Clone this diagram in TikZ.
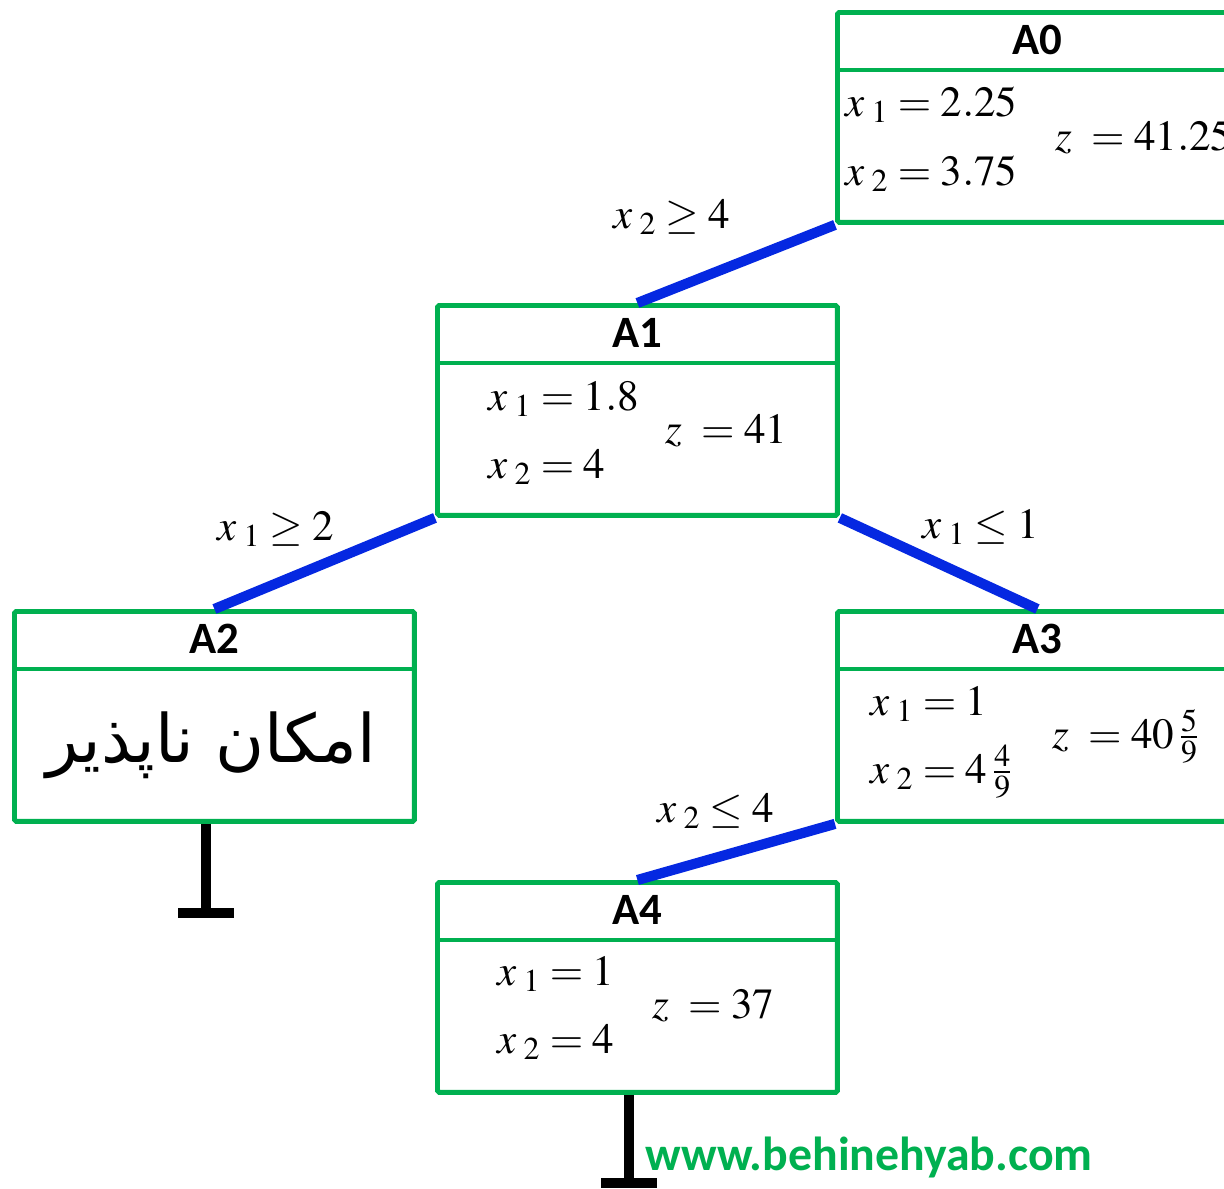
\documentclass[tikz,border=0pt]{standalone}
\usepackage{amsmath}
\usepackage{mathptmx}
\usepackage{fontspec}
\setmainfont{Liberation Serif}
\newfontfamily\headfont{Carlito}
\newfontfamily\persianfont[Script=Arabic]{DejaVu Sans}
\TeXXeTstate=1
\definecolor{boxgreen}{RGB}{0,176,80}
\definecolor{branchblue}{RGB}{5,40,225}
\tikzset{
  nodebox/.style={draw=boxgreen, line width=2.8pt, minimum width=8cm, minimum height=4.2cm, inner sep=0pt, rounded corners=1pt},
  divider/.style={draw=boxgreen, line width=2.8pt},
  headtxt/.style={font=\headfont\bfseries\fontsize{25.5}{30}\selectfont},
  valtxt/.style={anchor=base west, inner sep=0pt, font=\fontsize{24.5}{28}\selectfont},
  branch/.style={draw=branchblue, line width=5.8pt},
  stopbar/.style={draw=black, line width=6pt},
}

\begin{document}
\begin{tikzpicture}[x=0.02cm, y=-0.02cm]
  \useasboundingbox (0,0) rectangle (1224,1188);
  \clip (0,0) rectangle (1224,1188);

  % جعبه‌ها
  \node[nodebox, anchor=north west] (a0) at (835,10) {};
  \node[nodebox, anchor=north west] (a1) at (435,303) {};
  \node[nodebox, anchor=north west] (a2) at (12,609) {};
  \node[nodebox, anchor=north west] (a3) at (835,609) {};
  \node[nodebox, anchor=north west] (a4) at (435,880) {};

  % سرستون‌ها
  \foreach \b/\t in {a0/A0, a1/A1, a2/A2, a3/A3, a4/A4} {
    \draw[divider] ([yshift=-1.2cm]\b.north west) -- ([yshift=-1.2cm]\b.north east);
    \node[headtxt] (\b title) at ([yshift=-0.6cm]\b.north) {\t};
  }

  % مقادیر A0
  \node[valtxt] (a0x1) at (845,116) {$x_{\;1} = 2.25$};
  \node[valtxt] (a0x2) at (845,185) {$x_{\;2} = 3.75$};
  \node[valtxt] (a0z) at (1055,150) {$z\; = 41.25$};

  % مقادیر A1
  \node[valtxt] (a1x1) at (488,410) {$x_{\;1} = 1.8$};
  \node[valtxt] (a1x2) at (488,478) {$x_{\;2} = 4$};
  \node[valtxt] (a1z) at (665,443) {$z\; = 41$};

  % A2
  \node[font=\persianfont\fontsize{38}{42}\selectfont] (a2txt) at (211,745) {\beginR امکان ناپذیر\endR};

  % مقادیر A3
  \node[valtxt] (a3x1) at (870,715) {$x_{\;1} = 1$};
  \node[valtxt] (a3x2) at (870,783) {$x_{\;2} = 4\,\frac{4}{9}$};
  \node[valtxt] (a3z) at (1052,748) {$z\; = 40\,\frac{5}{9}$};

  % مقادیر A4
  \node[valtxt] (a4x1) at (497,985) {$x_{\;1} = 1$};
  \node[valtxt] (a4x2) at (497,1053) {$x_{\;2} = 4$};
  \node[valtxt] (a4z) at (652,1018) {$z\; = 37$};

  % شاخه‌ها
  \draw[branch] (a0.south west) -- (a1.north);
  \draw[branch] (a1.south west) -- (a2.north);
  \draw[branch] (a1.south east) -- (a3.north);
  \draw[branch] (a3.south west) -- (a4.north);

  % برچسب شاخه‌ها
  \node[valtxt] (c1) at (613,228) {$x_{\;2} \geq 4$};
  \node[valtxt] (c2) at (217,540) {$x_{\;1} \geq 2$};
  \node[valtxt] (c3) at (922,538) {$x_{\;1} \leq 1$};
  \node[valtxt] (c4) at (657,822) {$x_{\;2} \leq 4$};

  % پایان شاخه
  \coordinate (a2end) at (206,913);
  \coordinate (a4end) at (629,1183);
  \draw[stopbar] (a2.south -| a2end) -- (a2end);
  \draw[stopbar] ([xshift=-0.56cm]a2end) -- ([xshift=0.56cm]a2end);
  \draw[stopbar] (a4.south -| a4end) -- (a4end);
  \draw[stopbar] ([xshift=-0.56cm]a4end) -- ([xshift=0.56cm]a4end);

  % وب‌سایت
  \node[anchor=base west, inner sep=0pt, text=boxgreen, font=\headfont\bfseries\fontsize{27.2}{30}\selectfont] (site) at (645,1170) {www.behinehyab.com};
\end{tikzpicture}
\end{document}
